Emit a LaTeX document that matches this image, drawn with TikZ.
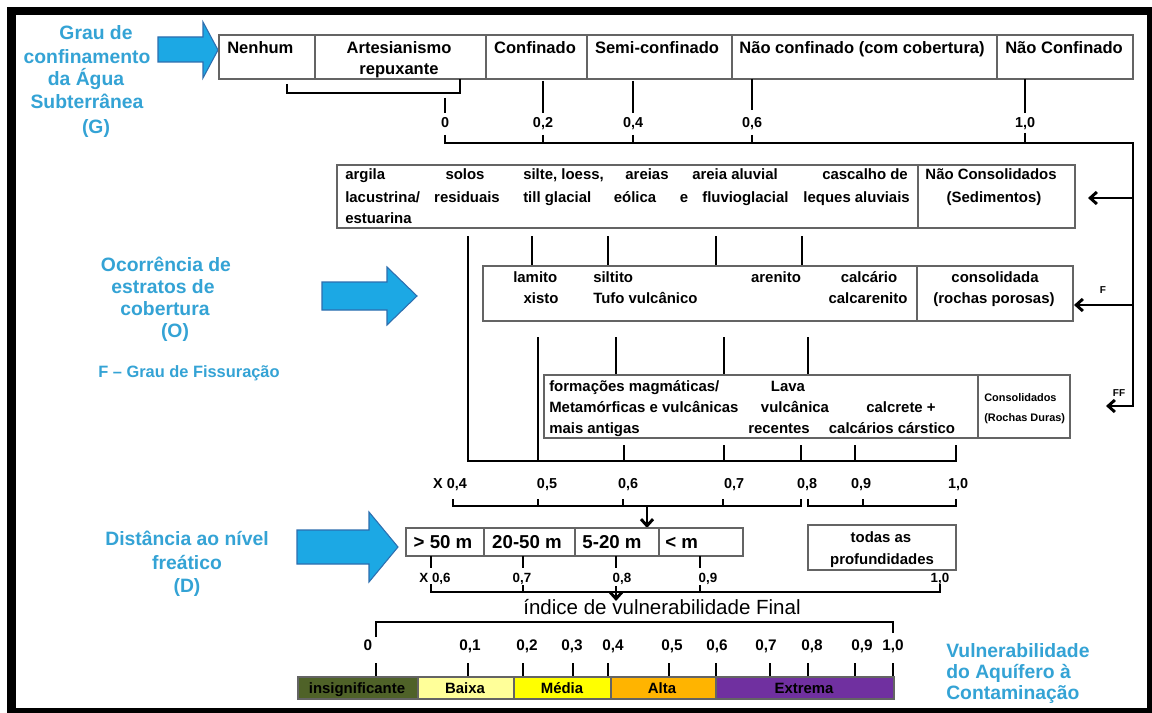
\documentclass[tikz,border=0pt]{standalone}
\usepackage{fontspec}
\setmainfont{Liberation Sans}
\usetikzlibrary{arrows.meta}
\definecolor{hdr}{RGB}{52,163,213}
\definecolor{arrfill}{RGB}{28,168,228}
\definecolor{arrdraw}{RGB}{45,110,175}
\definecolor{boxline}{RGB}{100,100,100}
\definecolor{olivebar}{RGB}{79,98,40}
\definecolor{baixa}{RGB}{255,255,153}
\definecolor{media}{RGB}{255,255,0}
\definecolor{alta}{RGB}{255,180,0}
\definecolor{extrema}{RGB}{112,48,160}
\begin{document}
\begin{tikzpicture}[x=0.75pt,y=-0.75pt,
  bl/.style={line width=2.2pt,black},
  gbox/.style={draw=boxline,line width=0.8pt},
  tipd/.style={-{Straight Barb[length=5pt,width=9pt]}},
  bt/.style={inner sep=0pt,anchor=base,font=\fontsize{11.2}{13}\selectfont\bfseries},
  tt/.style={inner sep=0pt,anchor=base,font=\fontsize{12.4}{14}\selectfont\bfseries},
  hd/.style={inner sep=0pt,anchor=base,text=hdr,font=\fontsize{14.5}{17}\selectfont\bfseries},
  sl/.style={inner sep=0pt,anchor=base,font=\fontsize{10.8}{12}\selectfont\bfseries},
  dl/.style={inner sep=0pt,anchor=base,font=\fontsize{10}{12}\selectfont\bfseries},
  fl/.style={inner sep=0pt,anchor=base,font=\fontsize{11.5}{13}\selectfont\bfseries},
  db/.style={inner sep=0pt,anchor=base,font=\fontsize{14}{16}\selectfont\bfseries},
  sm/.style={inner sep=0pt,anchor=base,font=\fontsize{7.5}{9}\selectfont\bfseries},
  rd/.style={inner sep=0pt,anchor=base west,font=\fontsize{8.2}{10}\selectfont\bfseries},
  bigarrow/.style={draw=arrdraw,fill=arrfill,line width=0.8pt,line join=miter}
]
\useasboundingbox (0,0) rectangle (1152,713);
% frame
\fill[black] (7,7) rectangle (1152,713);
\fill[white] (16,15) rectangle (1147,708);

% ---------- headers ----------
\node[hd] (g1) at (96,40) {Grau de};
\node[hd] (g2) at (87,64) {confinamento};
\node[hd] (g3) at (86,86) {da Água};
\node[hd] (g4) at (87,109) {Subterrânea};
\node[hd] (g5) at (96,134) {(G)};
\draw[bigarrow] (158,37) -- (203,37) -- (203,22) -- (218,50) -- (203,78) -- (203,62) -- (158,62) -- cycle;

\node[hd] (o1) at (166,271) {Ocorrência de};
\node[hd] (o2) at (163,293) {estratos de};
\node[hd] (o3) at (165,315) {cobertura};
\node[hd] (o4) at (175,337) {(O)};
\node[hd,anchor=base west,font=\fontsize{12.3}{14}\selectfont\bfseries] (ff) at (98,377) {F – Grau de Fissuração};
\draw[bigarrow] (322,282) -- (387,282) -- (387,267) -- (417,296) -- (387,325) -- (387,310) -- (322,310) -- cycle;

\node[hd] (d1) at (187,545) {Distância ao nível};
\node[hd] (d2) at (187,569) {freático};
\node[hd] (d3) at (187,592) {(D)};
\draw[bigarrow] (297,530) -- (369,530) -- (369,512) -- (398,547) -- (369,582) -- (369,564) -- (297,564) -- cycle;

\node[hd,anchor=base west] (v1) at (946,657) {Vulnerabilidade};
\node[hd,anchor=base west] (v2) at (946,678) {do Aquífero à};
\node[hd,anchor=base west] (v3) at (946,699) {Contaminação};

% ---------- top row (G) ----------
\draw[gbox] (219,35) rectangle (1133,79);
\foreach \x in {315,486,587,732,997} \draw[gbox] (\x,35) -- (\x,79);
\node[tt,anchor=base west] (t1) at (227,54) {Nenhum};
\node[tt] (t2) at (399,54) {Artesianismo};
\node[tt] (t2b) at (399,75) {repuxante};
\node[tt] (t3) at (535,54) {Confinado};
\node[tt] (t4) at (657,54) {Semi-confinado};
\node[tt] (t5) at (862,54) {Não confinado (com cobertura)};
\node[tt,anchor=base west] (t6) at (1005,54) {Não Confinado};

\draw[bl] (287,84) -- (287,93) -- (460,93) -- (460,79);
\draw[bl] (445,98) -- (445,113);
\draw[bl] (543,81) -- (543,113);
\draw[bl] (633,81) -- (633,113);
\draw[bl] (752,79) -- (752,110);
\draw[bl] (1025,79) -- (1025,113);
\node[sl] (s0) at (445,128) {0};
\node[sl] (s2) at (543,128) {0,2};
\node[sl] (s4) at (633,128) {0,4};
\node[sl] (s6) at (752,128) {0,6};
\node[sl] (s10) at (1025,128) {1,0};
\foreach \x in {543,633,752} \draw[bl] (\x,135) -- (\x,143);
\draw[bl] (1025,133) -- (1025,143);
\draw[bl,tipd] (445,135) -- (445,143) -- (1133,143) -- (1133,406) -- (1106,406);
\draw[bl,tipd] (1133,198) -- (1088,198);
\draw[bl,tipd] (1133,305) -- (1074,305);

% ---------- box 2 (sedimentos) ----------
\draw[gbox] (337,165) rectangle (1075,228);
\draw[gbox] (918,165) -- (918,228);
\node[bt,anchor=base west] (a1) at (345,180) {argila};
\node[bt,anchor=base west] (a2) at (345,202) {lacustrina/};
\node[bt,anchor=base west] (a3) at (345,223) {estuarina};
\node[bt] (b1) at (465,180) {solos};
\node[bt] (b2) at (467,202) {residuais};
\node[bt,anchor=base west] (c1) at (523,180) {silte, loess,};
\node[bt,anchor=base west] (c2) at (523,202) {till glacial};
\node[bt] (e1) at (647,180) {areias};
\node[bt] (e2) at (635,202) {eólica};
\node[bt] (e3) at (684,202) {e};
\node[bt,anchor=base west] (f1) at (692,180) {areia aluvial};
\node[bt,anchor=base west] (f2) at (702,202) {fluvioglacial};
\node[bt,anchor=base east] (h1) at (908,180) {cascalho de};
\node[bt,anchor=base east] (h2) at (910,202) {leques aluviais};
\node[bt] (n1) at (991,180) {Não Consolidados};
\node[bt] (n2) at (994,202) {(Sedimentos)};

\foreach \x in {532,608,716,802} \draw[bl] (\x,236) -- (\x,266);

% ---------- box 3 (rochas porosas) ----------
\draw[gbox] (483,266) rectangle (1073,321);
\draw[gbox] (917,266) -- (917,321);
\node[bt,anchor=base west] (l1) at (513,282) {lamito};
\node[bt] (l2) at (541,303) {xisto};
\node[bt,anchor=base west] (l3) at (593,282) {siltito};
\node[bt,anchor=base west] (l4) at (593,303) {Tufo vulcânico};
\node[bt] (l5) at (776,282) {arenito};
\node[bt] (l6) at (869,282) {calcário};
\node[bt] (l7) at (868,303) {calcarenito};
\node[bt] (l8) at (995,282) {consolidada};
\node[bt] (l9) at (994,303) {(rochas porosas)};
\node[sm] (fF) at (1103,293) {F};

\foreach \x in {616,724,808} \draw[bl] (\x,337) -- (\x,375);

% ---------- box 4 (rochas duras) ----------
\draw[gbox] (544,375) rectangle (1070,438);
\draw[gbox] (978,375) -- (978,438);
\node[bt,anchor=base west] (m1) at (549,391) {formações magmáticas/};
\node[bt,anchor=base west] (m2) at (549,412) {Metamórficas e vulcânicas};
\node[bt,anchor=base west] (m3) at (549,433) {mais antigas};
\node[bt] (m4) at (788,391) {Lava};
\node[bt] (m5) at (795,412) {vulcânica};
\node[bt] (m6) at (779,433) {recentes};
\node[bt] (m7) at (901,412) {calcrete +};
\node[bt] (m8) at (892,433) {calcários cárstico};
\node[rd] (m9) at (984,401) {Consolidados};
\node[rd] (m10) at (984,421) {(Rochas Duras)};
\node[sm] (fFF) at (1119,396) {FF};

% ---------- X 0,4 scale ----------
\draw[bl] (468,236) -- (468,461) -- (956,461) -- (956,445);
\draw[bl] (538,337) -- (538,461);
\foreach \x in {624,724,801,855} \draw[bl] (\x,445) -- (\x,461);
\node[sl] (x4) at (450,488) {X 0,4};
\node[sl] (x5) at (547,488) {0,5};
\node[sl] (x6) at (628,488) {0,6};
\node[sl] (x7) at (734,488) {0,7};
\node[sl] (x8) at (807,488) {0,8};
\node[sl] (x9) at (861,488) {0,9};
\node[sl] (x10) at (958,488) {1,0};
\draw[bl] (453,499) -- (453,506) -- (801,506) -- (801,499);
\foreach \x in {538,623,723} \draw[bl] (\x,499) -- (\x,506);
\draw[bl] (808,499) -- (808,506) -- (956,506) -- (956,499);
\draw[bl] (863,499) -- (863,506);
\draw[bl,tipd] (647,506) -- (647,528);

% ---------- D box ----------
\draw[gbox] (406,528) rectangle (743,556);
\foreach \x in {484,575,659} \draw[gbox] (\x,528) -- (\x,556);
\node[db] (p1) at (443,548) {> 50 m};
\node[db] (p2) at (527,548) {20-50 m};
\node[db] (p3) at (612,548) {5-20 m};
\node[db,anchor=base west] (p4) at (665,548) {< m};
\draw[gbox] (808,525) rectangle (956,570);
\node[bt] (q1) at (881,542) {todas as};
\node[bt] (q2) at (882,564) {profundidades};

\foreach \x in {431,523,616,700} \draw[bl] (\x,556) -- (\x,568);
\node[dl] (y6) at (435,582) {X 0,6};
\node[dl] (y7) at (522,582) {0,7};
\node[dl] (y8) at (622,582) {0,8};
\node[dl] (y9) at (708,582) {0,9};
\node[dl] (y10) at (940,582) {1,0};
\draw[bl] (431,584) -- (431,592) -- (940,592) -- (940,584);
\foreach \x in {523,700} \draw[bl] (\x,585) -- (\x,592);
\draw[bl,tipd] (616,586) -- (616,601);

\node[inner sep=0pt,anchor=base,font=\fontsize{15.4}{17}\selectfont] (ind) at (662,614) {índice de vulnerabilidade Final};

% ---------- final scale ----------
\draw[bl] (376,637) -- (376,622) -- (893,622) -- (893,633);
\node[fl] (z0) at (368,650) {0};
\node[fl] (z1) at (470,650) {0,1};
\node[fl] (z2) at (527,650) {0,2};
\node[fl] (z3) at (572,650) {0,3};
\node[fl] (z4) at (613,650) {0,4};
\node[fl] (z5) at (672,650) {0,5};
\node[fl] (z6) at (717,650) {0,6};
\node[fl] (z7) at (766,650) {0,7};
\node[fl] (z8) at (812,650) {0,8};
\node[fl] (z9) at (862,650) {0,9};
\node[fl] (z10) at (893,650) {1,0};
\foreach \x in {376,468,523,573,608,669,716,770,808,855,893} \draw[bl] (\x,663) -- (\x,677);
\draw[draw=boxline,line width=0.8pt,fill=olivebar] (298,677) rectangle (418,699);
\draw[draw=boxline,line width=0.8pt,fill=baixa] (418,677) rectangle (514,699);
\draw[draw=boxline,line width=0.8pt,fill=media] (514,677) rectangle (611,699);
\draw[draw=boxline,line width=0.8pt,fill=alta] (611,677) rectangle (716,699);
\draw[draw=boxline,line width=0.8pt,fill=extrema] (716,677) rectangle (894,699);
\node[bt] (k1) at (357,693) {insignificante};
\node[bt] (k2) at (465,693) {Baixa};
\node[bt] (k3) at (562,693) {Média};
\node[bt] (k4) at (662,693) {Alta};
\node[bt] (k5) at (804,693) {Extrema};
\end{tikzpicture}
\end{document}
